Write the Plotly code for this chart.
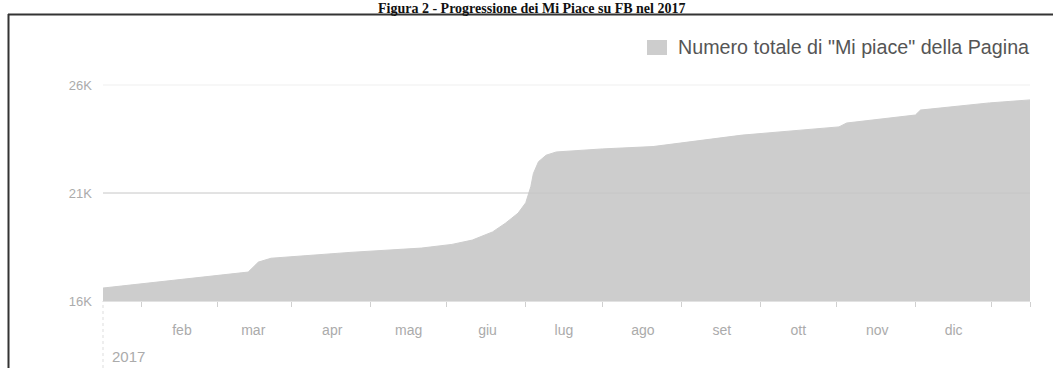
import plotly.graph_objects as go

# Total page likes over 2017
dates = [
    "2017-01-01", "2017-01-22", "2017-02-27", "2017-03-03", "2017-03-08",
    "2017-04-08", "2017-05-06", "2017-05-18", "2017-05-26", "2017-06-03",
    "2017-06-08", "2017-06-13", "2017-06-16", "2017-06-18", "2017-06-19",
    "2017-06-21", "2017-06-24", "2017-06-28", "2017-07-16", "2017-08-05",
    "2017-09-09", "2017-10-17", "2017-10-20", "2017-11-16", "2017-11-18",
    "2017-12-15", "2017-12-31",
]
likes = [
    16600, 16880, 17340, 17800, 17980,
    18250, 18450, 18620, 18820, 19200,
    19600, 20070, 20550, 21300, 21900,
    22450, 22750, 22900, 23040, 23150,
    23680, 24060, 24240, 24610, 24840,
    25170, 25310,
]

month_starts = ["2017-02-01", "2017-03-01", "2017-04-01", "2017-05-01", "2017-06-01",
                "2017-07-01", "2017-08-01", "2017-09-01", "2017-10-01", "2017-11-01",
                "2017-12-01"]
month_labels = ["feb", "mar", "apr", "mag", "giu", "lug", "ago", "set", "ott", "nov", "dic"]
mid_months = ["2017-01-16", "2017-02-15", "2017-03-16", "2017-04-16", "2017-05-16",
              "2017-06-16", "2017-07-16", "2017-08-16", "2017-09-16", "2017-10-16",
              "2017-11-16", "2017-12-16", "2017-12-31"]

y_ticks = [16000, 21000, 26000]
y_labels = ["16K", "21K", "26K"]

title_text = "Figura 2 - Progressione dei Mi Piace su FB nel 2017"
series_name = 'Numero totale di "Mi piace" della Pagina'

W, H = 1053, 368
ML, MR, MT, MB = 103, 23, 60, 67
PW = W - ML - MR
PH = H - MT - MB


def px_x(p):
    return (p - ML) / PW


def px_y(p):
    return (H - MB - p) / PH


fill_col = "#cdcdcd"
label_col = "#ababab"

fig = go.Figure()
fig.add_trace(go.Scatter(
    x=dates, y=likes, mode="lines", name=series_name,
    line=dict(color=fill_col, width=1),
    fill="tozeroy", fillcolor=fill_col,
    showlegend=False,
))

shapes = []
# horizontal grid lines, drawn over the area
grid_cols = {21000: "#c6c6c6", 26000: "#efefef"}
for v in y_ticks[1:]:
    shapes.append(dict(type="line", xref="paper", yref="y", x0=0, x1=1, y0=v, y1=v,
                       line=dict(color=grid_cols[v], width=1), layer="above"))
# year separator under the axis
shapes.append(dict(type="line", xref="paper", yref="paper", x0=0, x1=0,
                   y0=px_y(368), y1=0, line=dict(color="#dddddd", width=1, dash="dot")))
# outer frame (top and left edges)
shapes.append(dict(type="line", xref="paper", yref="paper", x0=px_x(8), x1=px_x(1053),
                   y0=px_y(14.5), y1=px_y(14.5), line=dict(color="#333333", width=2)))
shapes.append(dict(type="line", xref="paper", yref="paper", x0=px_x(8.5), x1=px_x(8.5),
                   y0=px_y(14), y1=px_y(370), line=dict(color="#333333", width=2)))
# legend swatch
shapes.append(dict(type="rect", xref="paper", yref="paper", x0=px_x(647), x1=px_x(667),
                   y0=px_y(55), y1=px_y(40), fillcolor=fill_col, line=dict(width=0)))

annotations = [
    dict(text="<b>" + title_text + "</b>", xref="paper", yref="paper",
         x=px_x(531), y=px_y(-1), xanchor="center", yanchor="top", showarrow=False,
         font=dict(family="Liberation Serif", size=14, color="#111111")),
    dict(text=series_name, xref="paper", yref="paper",
         x=px_x(676), y=px_y(47.5), xanchor="left", yanchor="middle", showarrow=False,
         font=dict(family="Liberation Sans", size=19.7, color="#555555")),
    dict(text="2017", xref="x", yref="paper", x="2017-01-01", y=px_y(356),
         xanchor="left", yanchor="middle", xshift=7, showarrow=False,
         font=dict(family="Liberation Sans", size=15, color=label_col)),
]

fig.update_layout(
    width=W, height=H,
    margin=dict(l=ML, r=MR, t=MT, b=MB, pad=0),
    paper_bgcolor="white", plot_bgcolor="white",
    font=dict(family="Liberation Sans", color=label_col),
    shapes=shapes, annotations=annotations,
    showlegend=False,
    xaxis=dict(
        range=["2017-01-01", "2017-12-31"],
        tickmode="array", tickvals=month_starts, ticktext=month_labels,
        ticks="", showgrid=False, zeroline=False,
        showline=True, linecolor="#e2e2e2", linewidth=1,
        ticklabelstandoff=16,
        tickfont=dict(size=14, color=label_col),
        minor=dict(tickmode="array", tickvals=mid_months, ticks="outside",
                   ticklen=5, tickcolor="#d0d0d0", tickwidth=1, showgrid=False),
    ),
    yaxis=dict(
        range=[16000, 16000 + PH / 0.0216],
        tickmode="array", tickvals=y_ticks, ticktext=y_labels,
        showgrid=False, zeroline=False, showline=False, ticks="",
        ticklabelstandoff=10,
        tickfont=dict(size=13, color=label_col),
    ),
)

fig.write_html("out.html")
